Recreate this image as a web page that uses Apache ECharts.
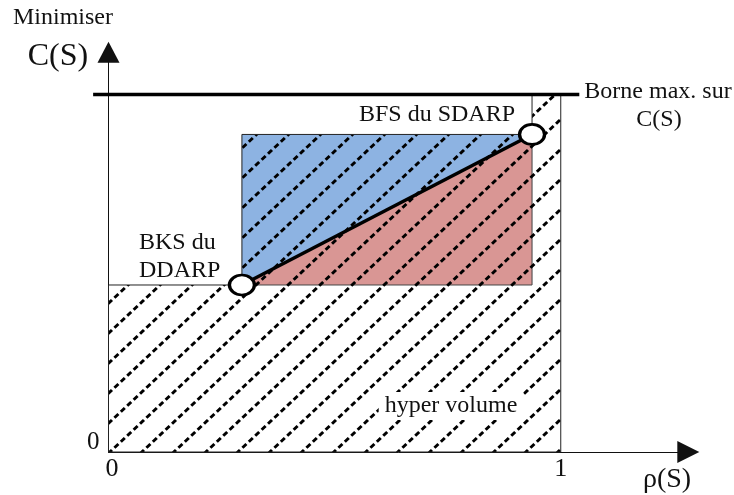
<!DOCTYPE html>
<html>
<head>
<meta charset="utf-8">
<script src="https://cdn.jsdelivr.net/npm/echarts@6.0.0/dist/echarts.min.js"></script>
<style>
  html, body { margin: 0; padding: 0; background: #fff; }
  #chart { width: 734px; height: 495px; }
</style>
</head>
<body>
<div id="chart"></div>
<script>
// points du schéma, en unités des axes
var bks = [0.295, 0.467];              // BKS du DDARP
var bfs = [0.9365, 0.888];             // BFS du SDARP
var rhoMax = 1;                        // rho(S) = 1
var borneMax = 1;                      // borne max. sur C(S)
var borneLine = [[-0.034, 1], [1.041, 1]];
var xTicks = [0, 1];
var yTicks = [0];

var serif = 'Liberation Serif';

// motif de hachures (lignes pointillées en diagonale)
function hatchPattern() {
  var w = 32, h = 30, off = 0.5;
  var c = document.createElement('canvas');
  c.width = w; c.height = h;
  var ctx = c.getContext('2d');
  ctx.strokeStyle = '#000';
  ctx.lineWidth = 3;
  var len = Math.sqrt(w * w + h * h);
  ctx.setLineDash([len / 5 * 0.62, len / 5 * 0.38]);
  for (var k = -2; k <= 2; k++) {
    var x0 = off * w + k * w;
    ctx.beginPath();
    ctx.moveTo(x0 + w, -h);
    ctx.lineTo(x0 - 2 * w, 2 * h);
    ctx.stroke();
  }
  return c;
}
var hatch = hatchPattern();

function renderZones(params, api) {
  var p = function (v) { return api.coord(v); };
  var blue = [[bks[0], bks[1]], [bfs[0], bks[1]], [bfs[0], bfs[1]], [bks[0], bfs[1]]].map(p);
  var red = [[bks[0], bks[1]], [bfs[0], bks[1]], [bfs[0], bfs[1]]].map(p);
  var zone = [[0, 0], [rhoMax, 0], [rhoMax, borneMax], [bfs[0], borneMax], [bfs[0], bfs[1]],
              [bks[0], bfs[1]], [bks[0], bks[1]], [0, bks[1]]].map(p);
  var b0 = p(borneLine[0]), b1 = p(borneLine[1]);
  return {
    type: 'group',
    children: [
      { type: 'polygon', shape: { points: blue }, style: { fill: '#8DB3E2' } },
      { type: 'polygon', shape: { points: red }, style: { fill: '#D99694', stroke: '#444', lineWidth: 1 } },
      { type: 'polygon', shape: { points: zone },
        style: { fill: { image: hatch, repeat: 'repeat' }, stroke: '#222', lineWidth: 1 } },
      { type: 'line', shape: { x1: b0[0], y1: b0[1], x2: b1[0], y2: b1[1] },
        style: { stroke: '#000', lineWidth: 3.5 } }
    ]
  };
}

var chart = echarts.init(document.getElementById('chart'));

var txt = function (text, x, y, size, align, extra) {
  var st = { text: text, fontSize: size, fontFamily: serif, fill: '#111',
             align: align || 'center', textAlign: align || 'center',
             verticalAlign: 'middle', textVerticalAlign: 'middle' };
  if (extra) for (var k in extra) st[k] = extra[k];
  return { type: 'text', x: x, y: y, z: 100, style: st };
};

chart.setOption({
  animation: false,
  backgroundColor: '#fff',
  grid: { left: 108.5, right: 45.7, top: 52.2, bottom: 43, outerBoundsMode: 'none' },
  xAxis: {
    type: 'value', min: 0, max: 1.282,
    axisLine: { show: true, symbol: ['none', 'triangle'], symbolSize: [22, 22],
                lineStyle: { color: '#111', width: 1 } },
    axisTick: { show: false },
    splitLine: { show: false },
    axisLabel: {
      customValues: xTicks, margin: 4, fontSize: 26, fontFamily: serif, color: '#111',
      formatter: function (v) { return v === 0 ? '{a|0}' : String(v); },
      rich: { a: { fontSize: 26, fontFamily: serif, color: '#111', padding: [0, 0, 0, 7] } }
    }
  },
  yAxis: {
    type: 'value', min: 0, max: 1.118,
    axisLine: { show: true, symbol: ['none', 'triangle'], symbolSize: [22, 21],
                lineStyle: { color: '#111', width: 1 } },
    axisTick: { show: false },
    splitLine: { show: false },
    axisLabel: { customValues: yTicks, margin: 9, fontSize: 25, fontFamily: serif, color: '#111',
                 verticalAlign: 'bottom', lineHeight: 20 }
  },
  series: [
    { type: 'custom', renderItem: renderZones, data: [bks], silent: true, clip: false, z: 1 },
    { type: 'line', data: [bks, bfs], symbol: 'none', z: 3,
      lineStyle: { color: '#000', width: 3.5 } },
    { type: 'scatter', data: [bks, bfs], symbol: 'circle', symbolSize: [25, 20], z: 4,
      itemStyle: { color: '#fff', borderColor: '#000', borderWidth: 3, opacity: 1 } }
  ],
  graphic: [
    txt('Minimiser', 63, 18, 24),
    txt('C(S)', 58, 57, 32),
    txt('ρ(S)', 667, 480, 28),
    txt('Borne max. sur', 658, 92, 24),
    txt('C(S)', 659, 120, 24),
    txt('BFS du SDARP', 515, 115, 24, 'right'),
    txt('BKS du', 139, 243, 24, 'left'),
    txt('DDARP', 139, 271, 24, 'left'),
    txt('hyper volume', 451, 406, 24, 'center', { backgroundColor: '#fff', padding: [2, 6] })
  ]
});
</script>
</body>
</html>
